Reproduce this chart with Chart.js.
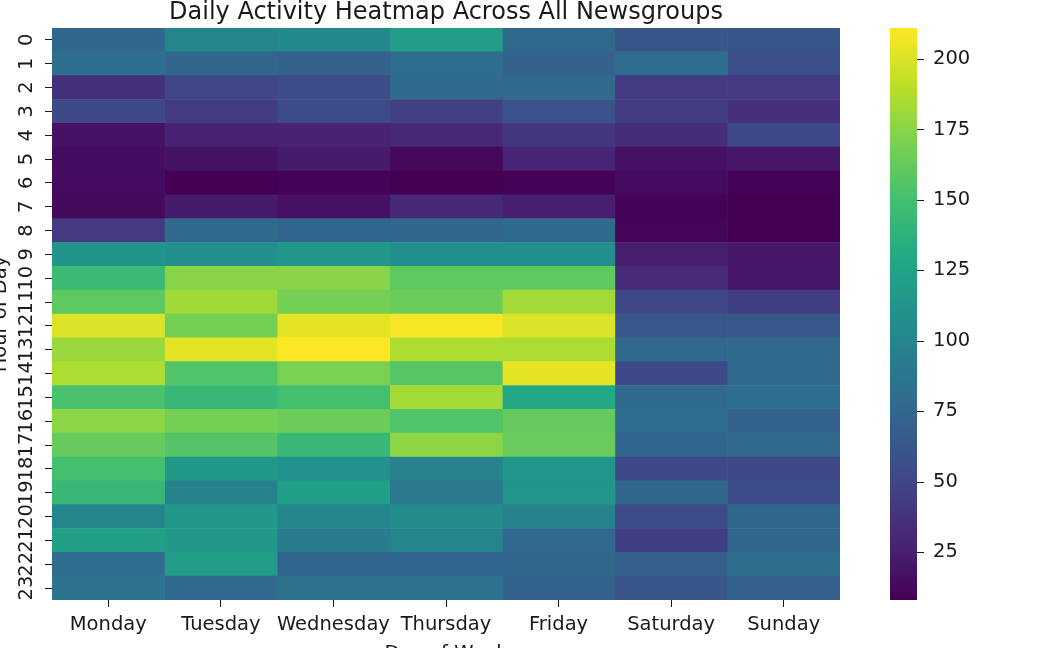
<!DOCTYPE html>
<html>
<head>
<meta charset="utf-8">
<script src="https://cdn.jsdelivr.net/npm/chart.js@4.4.0/dist/chart.umd.min.js"></script>
<style>
  html, body { margin: 0; padding: 0; background: #fff; overflow: hidden; }
  #wrap { width: 1050px; height: 648px; }
</style>
</head>
<body>
<div id="wrap"><canvas id="heat" width="1050" height="648"></canvas></div>
<script>
const days = ['Monday', 'Tuesday', 'Wednesday', 'Thursday', 'Friday', 'Saturday', 'Sunday'];
const hours = ['0','1','2','3','4','5','6','7','8','9','10','11','12','13','14','15','16','17','18','19','20','21','22','23'];

// posts per hour, one array per day (hour 0 .. 23)
const monday    = [75, 81, 36, 52, 18, 15, 14, 13, 42, 112, 145, 160, 200, 180, 186, 152, 176, 163, 150, 143, 100, 123, 80, 86];
const tuesday   = [100, 75, 51, 43, 28, 18, 8, 23, 78, 108, 175, 182, 168, 203, 155, 143, 168, 156, 117, 98, 116, 116, 120, 76];
const wednesday = [103, 71, 54, 54, 27, 23, 9, 17, 74, 115, 175, 168, 203, 211, 170, 150, 165, 143, 110, 122, 100, 92, 74, 86];
const thursday  = [120, 80, 78, 47, 31, 12, 8, 31, 75, 108, 160, 165, 209, 186, 157, 183, 155, 176, 98, 90, 106, 100, 74, 86];
const friday    = [77, 71, 78, 61, 40, 29, 9, 25, 78, 108, 160, 183, 200, 186, 203, 130, 163, 164, 114, 114, 98, 76, 75, 72];
const saturday  = [62, 80, 42, 43, 34, 17, 14, 9, 10, 24, 32, 52, 63, 77, 53, 78, 80, 74, 53, 75, 54, 45, 70, 62];
const sunday    = [62, 57, 42, 35, 52, 20, 9, 8, 8, 21, 20, 45, 63, 77, 76, 81, 72, 77, 53, 55, 75, 75, 82, 70];
const byDay = [monday, tuesday, wednesday, thursday, friday, saturday, sunday];

const cbarTicks = [25, 50, 75, 100, 125, 150, 175, 200];

const all = byDay.flat();
const vmin = Math.min(...all);
const vmax = Math.max(...all);

// viridis anchors at 0, 0.1, ... 1
const viridis = [
  [68, 1, 84], [72, 36, 117], [65, 68, 135], [53, 95, 141], [42, 120, 142],
  [33, 145, 140], [34, 168, 132], [68, 191, 112], [122, 209, 81], [189, 223, 38], [253, 231, 37]
];
function viridisAt(t) {
  t = Math.max(0, Math.min(1, t));
  const p = t * 10;
  const i = Math.min(9, Math.floor(p));
  const f = p - i;
  const a = viridis[i], b = viridis[i + 1];
  const c = a.map((v, k) => Math.round(v + (b[k] - v) * f));
  return `rgb(${c[0]},${c[1]},${c[2]})`;
}
const colorFor = v => viridisAt((v - vmin) / (vmax - vmin));

const textColor = '#1a1a1a';
const font = '"DejaVu Sans", sans-serif';

const datasets = days.map((d, i) => ({
  label: d,
  data: hours.map(() => 1),
  backgroundColor: byDay[i].map(colorFor),
  borderWidth: 0,
  barPercentage: 1,
  categoryPercentage: 1
}));

const extras = {
  id: 'extras',
  afterDraw(chart) {
    const { ctx, chartArea: a, scales } = chart;
    ctx.save();
    ctx.fillStyle = textColor;
    ctx.textAlign = 'center';

    // title
    ctx.font = '24px ' + font;
    ctx.textBaseline = 'alphabetic';
    ctx.fillText('Daily Activity Heatmap Across All Newsgroups', (a.left + a.right) / 2, 19);

    // hour labels, rotated like the original
    ctx.font = '19.5px ' + font;
    ctx.textBaseline = 'middle';
    hours.forEach((h, i) => {
      const y = scales.y.getPixelForValue(i);
      ctx.save();
      ctx.translate(26.5, y);
      ctx.rotate(-Math.PI / 2);
      ctx.fillText(h, 0, 0);
      ctx.restore();
    });

    // axis titles (cut by the canvas edge)
    ctx.save();
    ctx.translate(6, (a.top + a.bottom) / 2);
    ctx.rotate(-Math.PI / 2);
    ctx.textBaseline = 'alphabetic';
    ctx.fillText('Hour of Day', 0, 0);
    ctx.restore();
    ctx.textBaseline = 'alphabetic';
    ctx.fillText('Day of Week', (a.left + a.right) / 2, 659);

    // colorbar
    const cx = 890, cw = 27;
    const grad = ctx.createLinearGradient(0, a.bottom, 0, a.top);
    for (let s = 0; s <= 20; s++) grad.addColorStop(s / 20, viridisAt(s / 20));
    ctx.fillStyle = grad;
    ctx.fillRect(cx, a.top, cw, a.bottom - a.top);
    ctx.fillStyle = textColor;
    ctx.strokeStyle = textColor;
    ctx.lineWidth = 1;
    ctx.textAlign = 'left';
    ctx.textBaseline = 'middle';
    cbarTicks.forEach(v => {
      const y = a.bottom - (v - vmin) / (vmax - vmin) * (a.bottom - a.top);
      ctx.beginPath();
      ctx.moveTo(cx + cw, Math.round(y) + 0.5);
      ctx.lineTo(cx + cw + 7, Math.round(y) + 0.5);
      ctx.stroke();
      ctx.fillText(String(v), cx + cw + 16, y);
    });
    ctx.restore();
  }
};

new Chart(document.getElementById('heat'), {
  type: 'bar',
  data: { labels: hours, datasets },
  options: {
    indexAxis: 'y',
    responsive: false,
    animation: false,
    layout: { padding: { top: 28, right: 210, left: 0, bottom: 0 } },
    plugins: { legend: { display: false }, tooltip: { enabled: false } },
    scales: {
      x: {
        type: 'linear',
        stacked: true,
        min: 0,
        max: 7,
        afterBuildTicks: s => { s.ticks = days.map((d, i) => ({ value: i + 0.5 })); },
        afterFit: s => { s.height = 48; },
        ticks: {
          color: textColor,
          font: { family: font, size: 19.5 },
          padding: 6,
          maxRotation: 0,
          autoSkip: false,
          callback: v => days[Math.floor(v)]
        },
        grid: { drawOnChartArea: false, drawTicks: true, tickLength: 7, color: textColor },
        border: { display: false }
      },
      y: {
        stacked: true,
        afterFit: s => { s.width = 52; },
        ticks: { display: false },
        grid: { drawOnChartArea: false, drawTicks: true, tickLength: 7, offset: false, color: textColor },
        border: { display: false }
      }
    }
  },
  plugins: [extras]
});
</script>
</body>
</html>
